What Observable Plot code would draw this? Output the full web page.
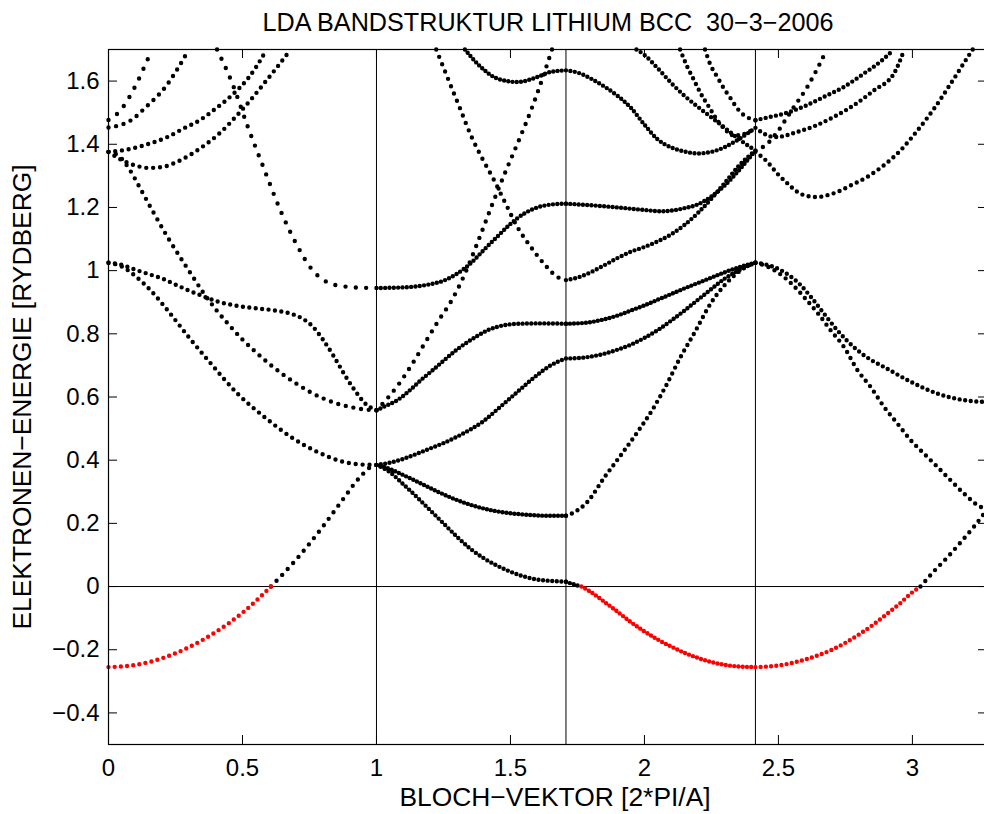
<!DOCTYPE html>
<html>
<head>
<meta charset="utf-8">
<script src="https://cdn.jsdelivr.net/npm/d3@7"></script>
<script src="https://cdn.jsdelivr.net/npm/@observablehq/plot@0.6"></script>
<style>
  html, body { margin: 0; padding: 0; background: #fff; }
  #chart svg { display: block; }
</style>
</head>
<body>
<div id="chart"></div>
<script>
// ---------------- texts ----------------
const titleText = "LDA BANDSTRUKTUR LITHIUM BCC\u00a0 30\u22123\u22122006";
const xLabelText = "BLOCH\u2212VEKTOR [2*PI/A]";
const yLabelText = "ELEKTRONEN\u2212ENERGIE [RYDBERG]";

// ---------------- axes ----------------
const xTicks = [0, 0.5, 1, 1.5, 2, 2.5, 3];
const yTicks = [-0.4, -0.2, 0, 0.2, 0.4, 0.6, 0.8, 1, 1.2, 1.4, 1.6];
const yDomain = [-0.5, 1.7];
// high-symmetry points Γ, H, N, Γ, P along the path
const kPoints = [0, 1, 1.7071, 2.4142, 3.2802];
const symLines = [1, 1.7071, 2.4142];
const fermiLevel = [0];

// ---------------- bands, Γ–H ----------------
const ghBand1 = [[0,-0.255],[0.1,-0.248],[0.2,-0.227],[0.3,-0.192],[0.4,-0.144],[0.5,-0.083],[0.606,0],[0.7,0.085],[0.8,0.19],[0.88,0.282],[0.92,0.328],[0.95,0.357],[0.975,0.377],[1,0.385]];
const ghBands = [
  [[0,1.025],[0.05,1.013],[0.1,0.983],[0.16,0.935],[0.22,0.875],[0.3,0.789],[0.38,0.708],[0.48,0.612],[0.58,0.538],[0.68,0.474],[0.78,0.426],[0.88,0.394],[0.95,0.386],[1,0.385]],
  [[0,1.025],[0.05,1.018],[0.1,1.003],[0.15,0.989],[0.2,0.975],[0.26,0.952],[0.3,0.937],[0.35,0.92],[0.4,0.904],[0.47,0.89],[0.55,0.881],[0.62,0.874],[0.68,0.864],[0.72,0.85],[0.76,0.825],[0.8,0.782],[0.84,0.73],[0.88,0.672],[0.92,0.62],[0.96,0.578],[1,0.558]],
  [[0,1.376],[0.04,1.362],[0.08,1.318],[0.12,1.258],[0.16,1.196],[0.22,1.107],[0.28,1.026],[0.3,1.0],[0.35,0.935],[0.4,0.878],[0.45,0.828],[0.5,0.782],[0.55,0.742],[0.6,0.705],[0.65,0.672],[0.7,0.643],[0.75,0.617],[0.8,0.596],[0.85,0.58],[0.9,0.569],[0.95,0.561],[1,0.558]],
  [[0,1.376],[0.05,1.35],[0.1,1.333],[0.15,1.325],[0.2,1.328],[0.26,1.346],[0.34,1.386],[0.42,1.439],[0.48,1.492],[0.53,1.54],[0.58,1.592],[0.63,1.645],[0.68,1.70]],
  [[0,1.376],[0.08,1.385],[0.16,1.404],[0.22,1.423],[0.28,1.45],[0.34,1.476],[0.4,1.513],[0.46,1.555],[0.52,1.608],[0.555,1.65],[0.59,1.70]],
  [[0.405,1.70],[0.46,1.597],[0.52,1.455],[0.58,1.323],[0.64,1.194],[0.7,1.086],[0.76,1.003],[0.82,0.962],[0.88,0.95],[0.94,0.946],[1,0.945]],
  [[0,1.477],[0.02,1.487],[0.06,1.525],[0.1,1.584],[0.14,1.657],[0.162,1.70]],
  [[0,1.453],[0.04,1.46],[0.08,1.474],[0.14,1.518],[0.22,1.59],[0.26,1.642],[0.3,1.70]]
];

// ---------------- bands, H–N ----------------
const hnBand1 = [[1,0.385],[1.05,0.362],[1.1,0.324],[1.15,0.284],[1.2,0.242],[1.25,0.2],[1.3,0.158],[1.35,0.12],[1.4,0.09],[1.45,0.066],[1.5,0.047],[1.55,0.032],[1.6,0.022],[1.65,0.018],[1.7071,0.015]];
const hnBands = [
  [[1,0.385],[1.05,0.372],[1.1,0.353],[1.15,0.333],[1.2,0.312],[1.25,0.292],[1.3,0.274],[1.35,0.259],[1.4,0.247],[1.45,0.238],[1.5,0.232],[1.55,0.228],[1.6,0.225],[1.65,0.224],[1.7071,0.224]],
  [[1,0.385],[1.05,0.392],[1.1,0.404],[1.15,0.42],[1.2,0.437],[1.25,0.454],[1.3,0.474],[1.35,0.497],[1.4,0.524],[1.45,0.56],[1.5,0.597],[1.55,0.634],[1.6,0.67],[1.65,0.70],[1.7071,0.722]],
  [[1,0.558],[1.03,0.57],[1.078,0.59],[1.12,0.618],[1.165,0.653],[1.21,0.685],[1.252,0.716],[1.3,0.75],[1.34,0.774],[1.38,0.795],[1.414,0.811],[1.45,0.822],[1.489,0.829],[1.54,0.832],[1.6,0.833],[1.7071,0.832]],
  [[1,0.558],[1.04,0.595],[1.08,0.637],[1.13,0.70],[1.18,0.77],[1.23,0.84],[1.28,0.905],[1.33,0.99],[1.38,1.095],[1.43,1.205],[1.48,1.31],[1.53,1.41],[1.58,1.515],[1.62,1.61],[1.655,1.70]],
  [[1,0.945],[1.1,0.947],[1.2,0.957],[1.25,0.968],[1.3,0.99],[1.35,1.022],[1.4,1.065],[1.45,1.107],[1.5,1.148],[1.55,1.18],[1.6,1.2],[1.65,1.209],[1.7071,1.212]],
  [[1.223,1.70],[1.269,1.603],[1.312,1.513],[1.352,1.429],[1.395,1.355],[1.439,1.286],[1.482,1.212],[1.526,1.138],[1.576,1.075],[1.625,1.022],[1.675,0.98],[1.7071,0.97]],
  [[1.33,1.70],[1.389,1.645],[1.451,1.608],[1.526,1.597],[1.601,1.613],[1.65,1.629],[1.7071,1.634]]
];

// ---------------- bands, N–Γ ----------------
const ngBand1 = [[1.7071,0.015],[1.74,0.006],[1.765,0],[1.8,-0.017],[1.85,-0.048],[1.9,-0.08],[1.95,-0.113],[2.0,-0.142],[2.05,-0.168],[2.1,-0.19],[2.15,-0.21],[2.2,-0.226],[2.25,-0.239],[2.3,-0.248],[2.35,-0.253],[2.4142,-0.255]];
const ngBands = [
  [[1.7071,0.224],[1.74,0.236],[1.787,0.268],[1.85,0.345],[1.912,0.416],[1.974,0.489],[2.03,0.56],[2.08,0.635],[2.135,0.727],[2.185,0.801],[2.25,0.9],[2.3,0.955],[2.35,0.995],[2.39,1.017],[2.4142,1.025]],
  [[1.7071,0.722],[1.75,0.723],[1.8,0.728],[1.85,0.737],[1.9,0.75],[1.95,0.766],[2.0,0.787],[2.05,0.812],[2.1,0.842],[2.15,0.874],[2.2,0.908],[2.25,0.942],[2.3,0.975],[2.35,1.0],[2.4142,1.025]],
  [[1.7071,0.832],[1.75,0.833],[1.8,0.837],[1.85,0.846],[1.9,0.858],[1.95,0.874],[2.0,0.89],[2.05,0.908],[2.1,0.926],[2.15,0.944],[2.2,0.961],[2.25,0.978],[2.3,0.995],[2.35,1.01],[2.4142,1.025]],
  [[1.7071,0.97],[1.75,0.978],[1.8,0.995],[1.85,1.017],[1.9,1.04],[1.95,1.06],[2.0,1.075],[2.05,1.093],[2.1,1.115],[2.15,1.145],[2.2,1.183],[2.25,1.228],[2.3,1.278],[2.35,1.33],[2.4142,1.38]],
  [[1.7071,1.212],[1.8,1.207],[1.9,1.2],[2.0,1.192],[2.06,1.188],[2.1,1.19],[2.15,1.198],[2.2,1.21],[2.25,1.235],[2.3,1.27],[2.35,1.315],[2.4142,1.38]],
  [[1.7071,1.634],[1.75,1.627],[1.8,1.608],[1.85,1.583],[1.9,1.553],[1.95,1.515],[2.0,1.462],[2.05,1.415],[2.1,1.39],[2.15,1.377],[2.2,1.371],[2.25,1.376],[2.3,1.391],[2.35,1.415],[2.4142,1.452]],
  [[1.97,1.70],[2.0,1.683],[2.05,1.64],[2.1,1.594],[2.15,1.553],[2.2,1.518],[2.25,1.485],[2.3,1.452],[2.35,1.418],[2.4142,1.38]],
  [[2.133,1.70],[2.16,1.645],[2.185,1.603],[2.21,1.561],[2.241,1.518],[2.272,1.476],[2.303,1.445],[2.334,1.428],[2.37,1.432],[2.4142,1.452]],
  [[2.226,1.70],[2.247,1.65],[2.272,1.613],[2.297,1.576],[2.322,1.545],[2.347,1.513],[2.371,1.492],[2.395,1.481],[2.4142,1.476]]
];

// ---------------- bands, Γ–P ----------------
const gpBand1 = [[2.4142,-0.255],[2.5,-0.25],[2.55,-0.242],[2.6,-0.231],[2.65,-0.217],[2.7,-0.2],[2.75,-0.178],[2.8,-0.152],[2.85,-0.123],[2.9,-0.09],[2.95,-0.056],[3.0,-0.018],[3.03,0],[3.08,0.048],[3.13,0.092],[3.18,0.14],[3.23,0.19],[3.2802,0.245]];
const gpBands = [
  [[2.4142,1.025],[2.45,1.02],[2.496,1.007],[2.54,0.985],[2.583,0.954],[2.621,0.917],[2.67,0.864],[2.72,0.811],[2.795,0.748],[2.85,0.715],[2.894,0.695],[2.994,0.648],[3.093,0.611],[3.193,0.59],[3.2802,0.584]],
  [[2.4142,1.025],[2.45,1.016],[2.5,0.993],[2.55,0.958],[2.6,0.912],[2.65,0.862],[2.695,0.811],[2.745,0.758],[2.795,0.685],[2.844,0.632],[2.894,0.569],[2.944,0.516],[2.994,0.463],[3.043,0.421],[3.093,0.379],[3.143,0.336],[3.193,0.294],[3.255,0.252],[3.2802,0.245]],
  [[2.4142,1.376],[2.459,1.344],[2.496,1.307],[2.534,1.276],[2.571,1.249],[2.608,1.236],[2.646,1.233],[2.683,1.239],[2.72,1.249],[2.77,1.27],[2.832,1.297],[2.894,1.334],[2.956,1.381],[3.019,1.444],[3.081,1.513],[3.143,1.592],[3.211,1.682],[3.225,1.70]],
  [[2.4142,1.38],[2.459,1.402],[2.496,1.439],[2.534,1.487],[2.558,1.518],[2.608,1.582],[2.658,1.661],[2.68,1.70]],
  [[2.4142,1.452],[2.45,1.432],[2.484,1.423],[2.52,1.426],[2.558,1.436],[2.633,1.457],[2.707,1.487],[2.782,1.524],[2.857,1.571],[2.931,1.624],[2.97,1.70]],
  [[2.4142,1.476],[2.46,1.485],[2.521,1.497],[2.596,1.52],[2.67,1.55],[2.745,1.582],[2.819,1.624],[2.894,1.671],[2.93,1.70]]
];

// ---------------- layout ----------------
const W = 984, H = 814;
const mLeft = 108, mRight = -3, mTop = 49, mBottom = 70;
const dotsPerSegment = 50;
const tickPx = 9;

// build the dotted band pieces (lowest band: red below the Fermi level)
const pieces = [];
function segLenFor(k0) {
  for (let i = 0; i < kPoints.length - 1; i++) {
    if (k0 >= kPoints[i] - 1e-6 && k0 < kPoints[i + 1] - 1e-6) return kPoints[i + 1] - kPoints[i];
  }
  return kPoints[kPoints.length - 1] - kPoints[kPoints.length - 2];
}
function addPiece(pts, color) {
  if (pts.length < 2) return;
  const span = pts[pts.length - 1][0] - pts[0][0];
  const dk = segLenFor(pts[0][0]) / dotsPerSegment;
  pieces.push({pts, color, n: Math.max(1, Math.round(span / dk))});
}
const lowest = [ghBand1, hnBand1, ngBand1, gpBand1];
const others = [...ghBands, ...hnBands, ...ngBands, ...gpBands];
others.forEach(b => addPiece(b, "#000"));
lowest.forEach(b => addPiece(b.filter(p => p[1] >= 0), "#000"));
lowest.forEach(b => addPiece(b.filter(p => p[1] <= 0), "#ff0000"));

const kMax = kPoints[kPoints.length - 1];
const yPerPx = (yDomain[1] - yDomain[0]) / (H - mTop - mBottom);
const xPerPx = kMax / (W - mLeft - mRight);
const tickY = tickPx * yPerPx, tickX = tickPx * xPerPx;

const fmtY = d => (d < 0 ? "\u2212" : "") + String(Math.abs(d));

const plot = Plot.plot({
  width: W, height: H,
  marginLeft: mLeft, marginRight: mRight, marginTop: mTop, marginBottom: mBottom,
  x: {domain: [0, kMax]},
  y: {domain: yDomain},
  style: {fontFamily: "'Liberation Sans', Arial, Helvetica, sans-serif", fontSize: "24px", background: "#fff", color: "#000"},
  marks: [
    Plot.ruleY(fermiLevel, {stroke: "#000", strokeWidth: 1}),
    Plot.ruleX(symLines, {stroke: "#000", strokeWidth: 1}),
    ...pieces.map(p => Plot.line(p.pts, {
      x: d => d[0], y: d => d[1], curve: "monotone-x",
      stroke: p.color, strokeWidth: 4.4, strokeLinecap: "round", strokeDasharray: "0 1"
    })),
    // inward ticks
    Plot.ruleX(xTicks, {x: d => d, y1: yDomain[0], y2: yDomain[0] + tickY, stroke: "#000"}),
    Plot.ruleX(xTicks, {x: d => d, y1: yDomain[1] - tickY, y2: yDomain[1], stroke: "#000"}),
    Plot.ruleY(yTicks, {y: d => d, x1: 0, x2: tickX, stroke: "#000"}),
    Plot.ruleY(yTicks, {y: d => d, x1: kMax - tickX, x2: kMax, stroke: "#000"}),
    Plot.frame({stroke: "#000", strokeWidth: 1.2}),
    Plot.axisX({ticks: xTicks, tickSize: 0, tickPadding: 14, fontSize: 24, label: null, tickFormat: d => String(d)}),
    Plot.axisY({ticks: yTicks, tickSize: 0, tickPadding: 9, fontSize: 24, label: null, tickFormat: fmtY}),
    Plot.text([titleText], {text: d => d, frameAnchor: "top", dy: -27, lineAnchor: "middle", textAnchor: "middle", fontSize: 25.2}),
    Plot.text([xLabelText], {text: d => d, frameAnchor: "bottom", dx: 7, dy: 53, lineAnchor: "middle", textAnchor: "middle", fontSize: 26.4}),
    Plot.text([yLabelText], {text: d => d, frameAnchor: "left", dx: -86, rotate: -90, lineAnchor: "middle", textAnchor: "middle", fontSize: 26.4})
  ]
});

// uniform dot count per band piece along each path
const lineGroups = plot.querySelectorAll('g[aria-label="line"]');
lineGroups.forEach((g, i) => {
  const p = pieces[i];
  if (!p) return;
  g.querySelectorAll("path").forEach(path => path.setAttribute("pathLength", p.n));
});

document.getElementById("chart").appendChild(plot);
</script>
</body>
</html>
